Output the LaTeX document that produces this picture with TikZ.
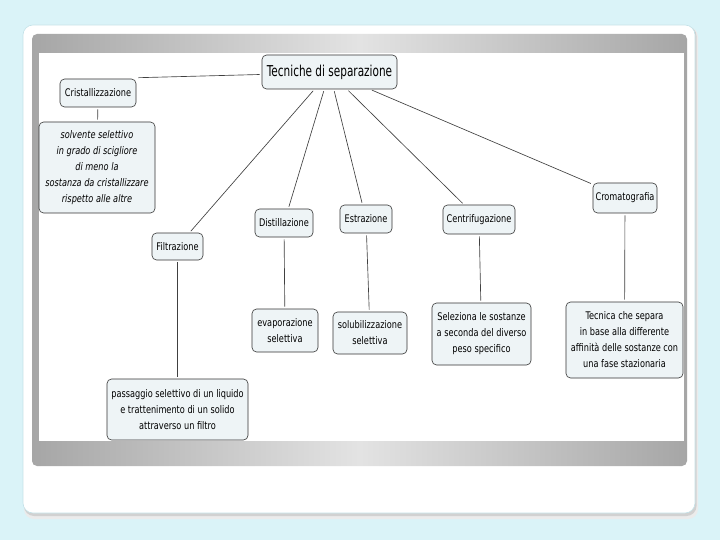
\documentclass[tikz,border=0pt]{standalone}
\usepackage{fontspec}
\setmainfont[FakeStretch=0.78]{DejaVu Sans}
\newfontfamily\bigfont[FakeStretch=0.70]{DejaVu Sans}
\usetikzlibrary{calc}
\definecolor{bgc}{HTML}{DAF3F8}
\definecolor{cardb}{HTML}{C4E2E8}
\definecolor{frd}{HTML}{A6A6A6}
\definecolor{frl}{HTML}{E3E3E3}
\definecolor{nodefill}{HTML}{EEF4F6}
\tikzset{
  box/.style={draw=black!80, fill=nodefill, line width=0.6pt, rounded corners=4.5pt,
    inner sep=0pt, align=center, font=\fontsize{10.5}{16}\selectfont},
  conn/.style={draw=black!75, line width=0.65pt, shorten <=2pt, shorten >=2pt}
}
\begin{document}
\begin{tikzpicture}[x=1pt,y=-1pt]
\useasboundingbox (0,0) rectangle (720,540);
\fill[bgc] (0,0) rectangle (720,540);
% card with shadow
\fill[black!8, rounded corners=10pt] (24,27) rectangle (698,519);
\fill[black!18, rounded corners=10pt] (24,26) rectangle (696.5,516);
\filldraw[fill=white, draw=cardb, line width=0.6pt, rounded corners=10pt] (23,25) rectangle (695,513);
% gray frame
\shade[left color=frd, right color=frd, middle color=frl, rounded corners=5pt] (32,34) rectangle (687,466);
\fill[white] (38.5,53) rectangle (684,441);

% nodes
\node[box, minimum width=135pt, minimum height=34pt, font=\bigfont\fontsize{15}{16}\selectfont] (top) at (329.5,72) {Tecniche di separazione};
\node[box, minimum width=76pt, minimum height=28pt] (cris) at (98,93) {Cristallizzazione};
\node[box, minimum width=116pt, minimum height=91pt, font=\fontsize{10.5}{16}\selectfont\itshape] (solv) at (97,167.5) {solvente selettivo\\in grado di scigliore\\di meno la\\sostanza da cristallizzare\\rispetto alle altre};
\node[box, minimum width=51pt, minimum height=27pt] (filt) at (177.5,246.5) {Filtrazione};
\node[box, minimum width=141pt, minimum height=61pt] (pass) at (177.5,409.5) {passaggio selettivo di un liquido\\e trattenimento di un solido\\attraverso un filtro};
\node[box, minimum width=58pt, minimum height=28pt] (dist) at (284,223) {Distillazione};
\node[box, minimum width=66pt, minimum height=43pt] (evap) at (285,330.5) {evaporazione\\selettiva};
\node[box, minimum width=52pt, minimum height=28pt] (estr) at (366,219) {Estrazione};
\node[box, minimum width=74pt, minimum height=42pt] (solub) at (370,333) {solubilizzazione\\selettiva};
\node[box, minimum width=72pt, minimum height=29pt] (cent) at (479,219.5) {Centrifugazione};
\node[box, minimum width=99pt, minimum height=62pt] (sel) at (481.5,334) {Seleziona le sostanze\\a seconda del diverso\\peso specifico};
\node[box, minimum width=64pt, minimum height=30pt] (crom) at (625,198) {Cromatografia};
\node[box, minimum width=117pt, minimum height=76pt] (tec) at (624.5,340) {Tecnica che separa\\in base alla differente\\affinità delle sostanze con\\una fase stazionaria};

% connectors
\draw[draw=black!75, line width=0.65pt] ([xshift=2pt,yshift=1pt]cris.north east) -- ([xshift=-2pt,yshift=-2.5pt]top.west);
\draw[conn] (top) -- (filt);
\draw[conn] (top) -- (dist);
\draw[conn] (top) -- (estr);
\draw[conn] (top) -- (cent);
\draw[conn] (top) -- (crom);
\draw[conn] (cris) -- (solv);
\draw[conn] (filt) -- (pass);
\draw[conn] (dist) -- (evap);
\draw[conn] (estr) -- (solub);
\draw[conn] (cent) -- (sel);
\draw[conn] (crom) -- (tec);
\end{tikzpicture}
\end{document}
